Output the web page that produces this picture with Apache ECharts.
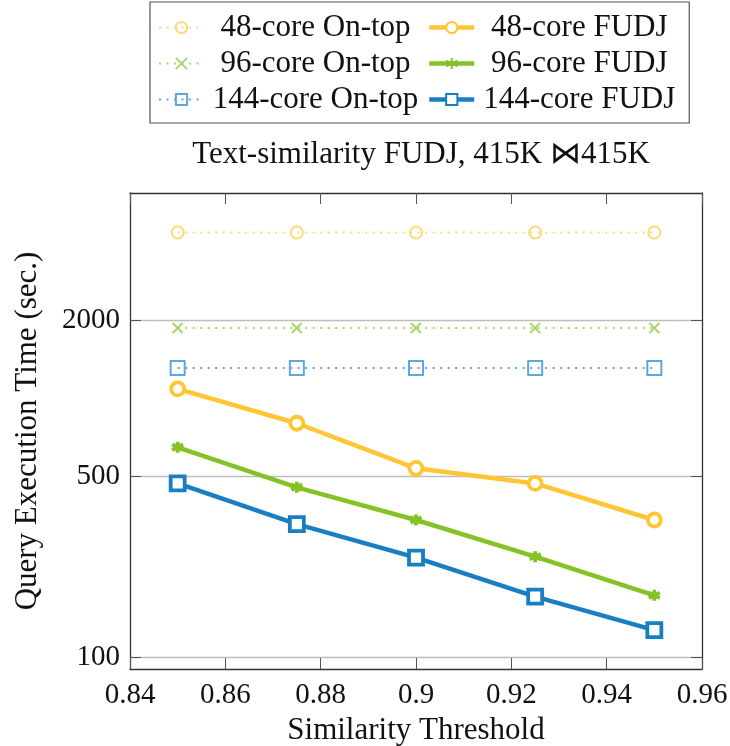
<!DOCTYPE html>
<html><head><meta charset="utf-8">
<script src="https://cdn.jsdelivr.net/npm/echarts@6/dist/echarts.min.js"></script>
<style>html,body{margin:0;padding:0;background:#fff}#c{width:730px;height:746px}</style>
</head><body><div id="c"></div>
<script>
const thresholds = [0.85, 0.875, 0.9, 0.925, 0.95];
const onTop48 = [4350, 4350, 4350, 4350, 4350];
const onTop96 = [1864, 1864, 1864, 1864, 1864];
const onTop144 = [1306, 1306, 1306, 1306, 1306];
const fudj48 = [1084, 799, 535, 468, 338];
const fudj96 = [645, 452, 338, 244, 173];
const fudj144 = [468, 326, 242, 171, 127];
const yTicks = [100, 500, 2000];
const xTicks = [0.84, 0.86, 0.88, 0.9, 0.92, 0.94, 0.96];
const names = ['48-core On-top', '48-core FUDJ', '96-core On-top', '96-core FUDJ', '144-core On-top', '144-core FUDJ'];

const FONT = 'Liberation Serif';
const C = {
  y: '#FFC532', yl: '#FFD877',
  g: '#84C225', gl: '#A9D76B',
  b: '#1A7EC2', bl: '#5EA8DC'
};
const pairs = arr => thresholds.map((t, i) => [t, arr[i]]);
const crossPath = 'path://M0,0L10,10M10,0L0,10';
const starPath = 'path://M5,0L5,10M0.67,2.5L9.33,7.5M0.67,7.5L9.33,2.5';

function onTop(name, data, color, symbol, size) {
  return {
    name, type: 'line', data: pairs(data), symbol, symbolSize: size,
    lineStyle: { color, width: 2, type: [2, 5.5] },
    itemStyle: { color: 'rgba(255,255,255,0)', borderColor: color, borderWidth: 2 },
    emphasis: { disabled: true }, z: 2
  };
}
function fudj(name, data, color, symbol, size, fill) {
  return {
    name, type: 'line', data: pairs(data), symbol, symbolSize: size,
    lineStyle: { color, width: 4.5 },
    itemStyle: { color: fill, borderColor: color, borderWidth: 3.8 },
    emphasis: { disabled: true }, z: 3
  };
}

const axisTickStyle = { lineStyle: { color: '#555', width: 1 } };
const chart = echarts.init(document.getElementById('c'), null, { renderer: 'canvas' });
chart.setOption({
  animation: false,
  backgroundColor: '#fff',
  title: {
    text: 'Text-similarity FUDJ, 415K \u22C8415K',
    left: 416, textAlign: 'center', top: 134,
    textStyle: { fontFamily: FONT, fontSize: 31, fontWeight: 'normal', color: '#111' }
  },
  legend: {
    data: names,
    left: 150, top: 2,
    padding: [10, 10, 8, 8],
    itemGap: 5,
    itemWidth: 45, itemHeight: 14,
    borderColor: '#555', borderWidth: 1.2,
    lineStyle: { width: 'inherit' },
    formatter: n => (n.indexOf('On-top') >= 0 ? '{a|' : '{b|') + n + '}',
    textStyle: {
      fontFamily: FONT, fontSize: 31, color: '#111',
      rich: {
        a: { fontFamily: FONT, fontSize: 31, width: 213, align: 'center', lineHeight: 30, height: 30 },
        b: { fontFamily: FONT, fontSize: 31, width: 200, align: 'center', lineHeight: 30, height: 30 }
      }
    },
    width: 600
  },
  grid: { left: 130, right: 28, top: 193, bottom: 77, containLabel: false, outerBoundsMode: 'none' },
  xAxis: [{
    type: 'value', min: 0.84, max: 0.96, interval: 0.02, position: 'bottom',
    name: 'Similarity Threshold', nameLocation: 'middle', nameGap: 44,
    nameTextStyle: { fontFamily: FONT, fontSize: 31, color: '#111' },
    axisLine: { show: true, onZero: false, lineStyle: { color: '#333', width: 1.3 } },
    axisTick: Object.assign({ show: true, inside: true, length: 11 }, axisTickStyle),
    axisLabel: { fontFamily: FONT, fontSize: 29, color: '#111', margin: 12,
      formatter: v => String(+v.toFixed(2)) },
    splitLine: { show: false }
  }, {
    type: 'value', min: 0.84, max: 0.96, interval: 0.02, position: 'top',
    axisLine: { show: true, onZero: false, lineStyle: { color: '#333', width: 1.3 } },
    axisTick: Object.assign({ show: true, inside: true, length: 11 }, axisTickStyle),
    axisLabel: { show: false }, splitLine: { show: false }
  }],
  yAxis: [{
    type: 'log', logBase: 10, min: 89.9, max: 6185, position: 'left',
    name: 'Query Execution Time (sec.)', nameLocation: 'middle', nameGap: 87,
    nameTextStyle: { fontFamily: FONT, fontSize: 31, color: '#111' },
    axisLine: { show: true, onZero: false, lineStyle: { color: '#333', width: 1.3 } },
    axisTick: Object.assign({ show: true, inside: true, length: 11, customValues: yTicks }, axisTickStyle),
    axisLabel: { fontFamily: FONT, fontSize: 29, color: '#111', margin: 10, customValues: yTicks,
      formatter: v => String(Math.round(v)) },
    splitLine: { show: true, lineStyle: { color: '#BDBDBD', width: 1.3 } },
    minorTick: { show: false }
  }, {
    type: 'log', logBase: 10, min: 89.9, max: 6185, position: 'right',
    axisLine: { show: true, onZero: false, lineStyle: { color: '#333', width: 1.3 } },
    axisTick: Object.assign({ show: true, inside: true, length: 11, customValues: yTicks }, axisTickStyle),
    axisLabel: { show: false, customValues: yTicks },
    splitLine: { show: false }
  }],
  series: [
    onTop(names[0], onTop48, C.yl, 'circle', 12),
    fudj(names[1], fudj48, C.y, 'circle', 13, '#fff'),
    onTop(names[2], onTop96, C.gl, crossPath, 10),
    fudj(names[3], fudj96, C.g, starPath, 11, C.g),
    onTop(names[4], onTop144, C.bl, 'rect', 14),
    fudj(names[5], fudj144, C.b, 'rect', 14, '#fff')
  ]
});
</script></body></html>
